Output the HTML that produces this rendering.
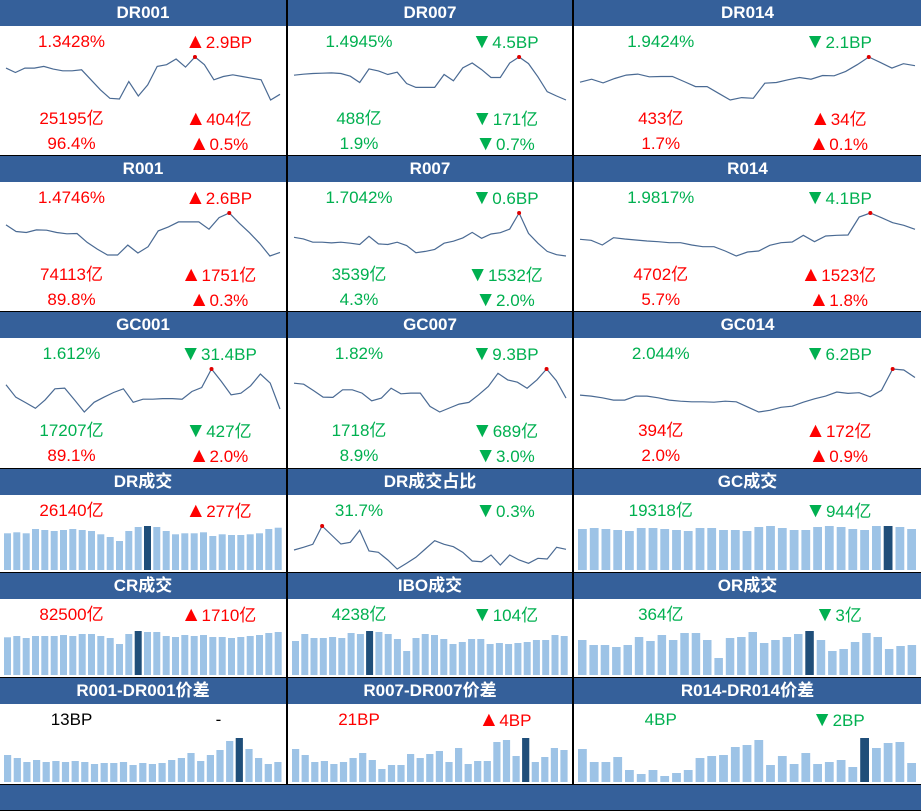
<!DOCTYPE html>
<html><head><meta charset="utf-8">
<style>
html,body{margin:0;padding:0;}
body{width:921px;height:811px;position:relative;background:#000;font-family:"Liberation Sans","Noto Sans CJK SC",sans-serif;overflow:hidden;}
.p{position:absolute;background:#fff;overflow:hidden;}
.h{position:absolute;left:0;top:0;right:0;height:26px;background:#35609A;color:#fff;font-weight:bold;font-size:17px;line-height:26px;text-align:center;}
.t{position:absolute;width:160px;margin-left:-80px;text-align:center;font-size:17px;line-height:20px;height:20px;white-space:nowrap;}
.t .a{font-size:21px;}
.r{color:#FF0000}.g{color:#00B050}.k{color:#000}
svg{position:absolute;left:0;top:0;}
#footer{position:absolute;left:0;top:785px;width:921px;height:25px;background:#35609A;}
</style></head><body>
<div id="grid"></div>
<div id="footer"></div>
<script>
// ---- data ----
const dr001 = [115,102,115,115,120,112,107,107,110,80,50,25,23,75,32,65,120,125,142,118,148,125,80,90,95,90,85,80,20,37];
const dr007 = [75,78,80,81,82,80,72,53,94,88,77,84,50,38,38,38,77,58,97,112,92,68,68,112,130,110,70,25,12,0];
const dr014 = [53,62,51,64,74,77,69,70,70,55,40,40,20,0,7,5,50,52,60,67,62,73,72,85,105,128,112,95,108,102];
const r001 = [98,78,75,83,82,75,71,72,45,25,7,7,37,13,32,80,92,107,107,107,85,120,134,103,74,42,4,15];
const r007 = [60,55,45,45,43,45,42,38,63,40,38,45,35,13,17,23,42,48,58,75,57,70,74,85,134,72,42,17,7,3];
const r014 = [55,52,38,60,56,53,50,48,45,45,38,33,33,20,5,17,20,37,45,47,67,48,65,67,68,122,134,120,105,97,85];
const gc001 = [95,58,42,25,50,83,85,50,14,43,58,72,83,43,52,52,54,54,52,75,87,142,105,65,70,92,127,100,23];
const gc007 = [100,97,78,58,57,80,80,70,47,55,85,68,70,70,30,13,25,37,42,65,90,130,110,103,85,110,143,108,55];
const gc014 = [63,60,55,48,48,60,60,55,48,45,43,43,42,45,43,28,13,18,27,30,42,52,60,72,68,70,58,77,140,137,115];
const drShare = [57,65,74,129,102,75,80,116,54,50,27,0,17,35,60,85,74,67,50,24,22,42,12,42,27,17,32,30,65,59];
const drVol = [110,113,110,123,120,117,120,123,120,117,107,99,87,117,129,132,129,117,107,110,110,113,102,107,105,105,107,110,123,127];
const crVol = [113,117,111,117,117,117,120,117,123,123,117,111,93,123,132,129,129,117,114,120,117,120,114,114,111,114,117,120,126,129];
const gcVol = [123,126,123,120,117,126,126,123,120,117,126,126,120,120,117,129,132,126,120,120,129,132,129,123,120,132,132,129,123];
const iboVol = [102,123,111,111,114,111,126,123,132,129,123,108,72,111,123,120,108,93,99,108,108,93,96,93,96,99,105,105,120,117];
const orVol = [105,90,90,84,90,114,102,120,105,126,126,105,51,111,114,129,96,105,114,123,132,105,72,78,99,126,114,78,87,90];
const spr1 = [81,72,60,66,60,63,60,63,60,54,57,57,60,51,57,54,57,66,72,87,63,81,96,123,132,99,72,54,60];
const spr7 = [99,81,60,63,54,60,72,87,66,39,51,51,84,72,84,93,60,102,54,63,63,120,126,78,132,60,75,102,96];
const spr14 = [99,60,60,75,36,24,36,18,27,36,72,78,81,105,111,126,51,78,54,87,54,60,66,45,132,102,117,120,57];
const lineHi = {dr001:20,dr007:24,dr014:25,r001:22,r007:24,r014:26,gc001:21,gc007:26,gc014:28,drShare:3};
const barHi = {drVol:15,crVol:14,gcVol:26,iboVol:8,orVol:20,spr1:24,spr7:24,spr14:24};

const colX = [0,288,574], colW = [286,284,347];
const rowY = [0,156,312,469,573,678], rowH = [155,155,156,103,104,106];

const titles = ["DR001","DR007","DR014","R001","R007","R014","GC001","GC007","GC014","DR成交","DR成交占比","GC成交","CR成交","IBO成交","OR成交","R001-DR001价差","R007-DR007价差","R014-DR014价差"];
const names = ["dr001","dr007","dr014","r001","r007","r014","gc001","gc007","gc014","dr-volume","dr-share","gc-volume","cr-volume","ibo-volume","or-volume","r001-dr001-spread","r007-dr007-spread","r014-dr014-spread"];
const series = [dr001,dr007,dr014,r001,r007,r014,gc001,gc007,gc014,drVol,drShare,gcVol,crVol,iboVol,orVol,spr1,spr7,spr14];
const keys = ["dr001","dr007","dr014","r001","r007","r014","gc001","gc007","gc014","drVol","drShare","gcVol","crVol","iboVol","orVol","spr1","spr7","spr14"];
const line1 = [["1.3428%","r","▲2.9BP","r"],["1.4945%","g","▼4.5BP","g"],["1.9424%","g","▼2.1BP","g"],
 ["1.4746%","r","▲2.6BP","r"],["1.7042%","g","▼0.6BP","g"],["1.9817%","g","▼4.1BP","g"],
 ["1.612%","g","▼31.4BP","g"],["1.82%","g","▼9.3BP","g"],["2.044%","g","▼6.2BP","g"],
 ["26140亿","r","▲277亿","r"],["31.7%","g","▼0.3%","g"],["19318亿","g","▼944亿","g"],
 ["82500亿","r","▲1710亿","r"],["4238亿","g","▼104亿","g"],["364亿","g","▼3亿","g"],
 ["13BP","k","-","k"],["21BP","r","▲4BP","r"],["4BP","g","▼2BP","g"]];
const line2 = [["25195亿","r","▲404亿","r"],["488亿","g","▼171亿","g"],["433亿","r","▲34亿","r"],
 ["74113亿","r","▲1751亿","r"],["3539亿","g","▼1532亿","g"],["4702亿","r","▲1523亿","r"],
 ["17207亿","g","▼427亿","g"],["1718亿","g","▼689亿","g"],["394亿","r","▲172亿","r"]];
const line3 = [["96.4%","r","▲0.5%","r"],["1.9%","g","▼0.7%","g"],["1.7%","r","▲0.1%","r"],
 ["89.8%","r","▲0.3%","r"],["4.3%","g","▼2.0%","g"],["5.7%","r","▲1.8%","r"],
 ["89.1%","r","▲2.0%","r"],["8.9%","g","▼3.0%","g"],["2.0%","r","▲0.9%","r"]];

const NS = "http://www.w3.org/2000/svg";
const grid = document.getElementById('grid');
function addText(p, txt, cls, x, y, nm){
  const d = document.createElement('div');
  d.className = 't ' + cls;
  d.style.left = x + 'px'; d.style.top = (y-10) + 'px';
  const first = txt.charAt(0);
  if (first === '▲' || first === '▼') {
    const s = document.createElement('span');
    s.className = 'a'; s.textContent = first;
    d.appendChild(s);
    d.appendChild(document.createTextNode(txt.slice(1)));
  } else {
    d.textContent = txt;
  }
  
  
  p.appendChild(d);
}
for (let i = 0; i < 18; i++) {
  const r = Math.floor(i/3), c = i%3;
  const W = colW[c], H = rowH[r];
  const p = document.createElement('div');
  p.className = 'p';
  p.style.left = colX[c]+'px'; p.style.top = rowY[r]+'px';
  p.style.width = W+'px'; p.style.height = H+'px';
  
  
  const h = document.createElement('div');
  h.className = 'h'; h.textContent = titles[i];
  
  
  p.appendChild(h);
  const svg = document.createElementNS(NS, 'svg');
  svg.setAttribute('width', W); svg.setAttribute('height', H);
  
  
  p.appendChild(svg);
  const vals = series[i], k = keys[i];
  if (k in lineHi) {
    const mn = Math.min(...vals), mx = Math.max(...vals);
    const x0 = 6, x1 = W - 6, yT = 57, yB = 100;
    const xs = j => x0 + (x1 - x0) * j / (vals.length - 1);
    const ys = v => yB - (v - mn) / (mx - mn) * (yB - yT);
    const pts = vals.map((v, j) => xs(j).toFixed(1) + ',' + ys(v).toFixed(1)).join(' ');
    const pl = document.createElementNS(NS, 'polyline');
    pl.setAttribute('points', pts);
    pl.setAttribute('fill', 'none'); pl.setAttribute('stroke', '#4A6A93'); pl.setAttribute('stroke-width', '1.2');
    
    
    svg.appendChild(pl);
    const hi = lineHi[k];
    const dot = document.createElementNS(NS, 'circle');
    dot.setAttribute('cx', xs(hi)); dot.setAttribute('cy', ys(vals[hi])); dot.setAttribute('r', '2');
    dot.setAttribute('fill', '#E00000');
    
    
    svg.appendChild(dot);
  } else {
    const mx = Math.max(...vals);
    const base = H - 2, maxH = 44;
    const step = (W - 6) / vals.length, bw = step * 0.75;
    vals.forEach((v, j) => {
      const bh = v / mx * maxH;
      const b = document.createElementNS(NS, 'rect');
      b.setAttribute('x', (4 + j*step).toFixed(1));
      b.setAttribute('y', (base - bh).toFixed(1));
      b.setAttribute('width', bw.toFixed(1));
      b.setAttribute('height', bh.toFixed(1));
      b.setAttribute('fill', j === barHi[k] ? '#1F4E79' : '#9DC3E6');
      
      
      svg.appendChild(b);
    });
  }
  const lx = W*0.25, rx = W*0.75 + 4;
  const l1 = line1[i];
  addText(p, l1[0], l1[1], lx, 42, names[i] + '-value');
  addText(p, l1[2], l1[3], rx, 42, names[i] + '-change');
  if (i < 9) {
    addText(p, line2[i][0], line2[i][1], lx, 119, names[i] + '-volume');
    addText(p, line2[i][2], line2[i][3], rx, 119, names[i] + '-volume-change');
    addText(p, line3[i][0], line3[i][1], lx, 144, names[i] + '-share');
    addText(p, line3[i][2], line3[i][3], rx, 144, names[i] + '-share-change');
  }
  grid.appendChild(p);
}
</script>
</body></html>
